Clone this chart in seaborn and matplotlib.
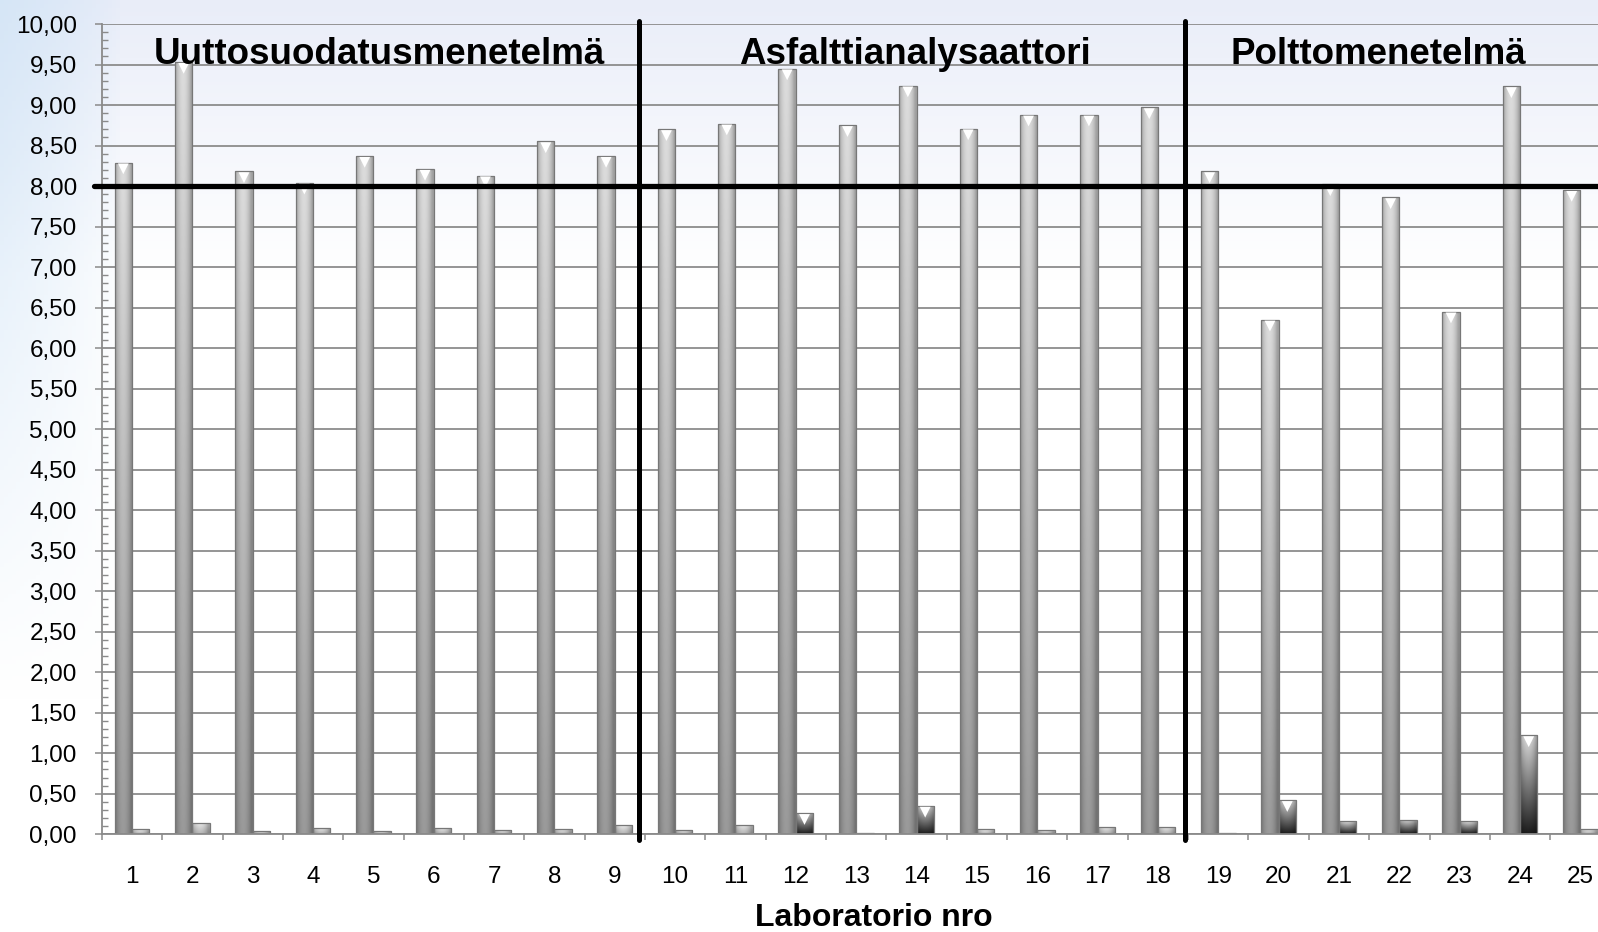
import numpy as np
import pandas as pd
import matplotlib
matplotlib.use("Agg")
import matplotlib.pyplot as plt
import matplotlib.transforms as mtransforms
import seaborn as sns
from matplotlib.ticker import MultipleLocator, FuncFormatter, FixedLocator

# ---------------- data ----------------
labs = [str(i) for i in range(1, 26)]
tulos = [8.29, 9.53, 8.18, 8.04, 8.37, 8.21, 8.13, 8.55, 8.37,
         8.70, 8.77, 9.45, 8.75, 9.24, 8.71, 8.88, 8.88, 8.97,
         8.18, 6.35, 8.02, 7.86, 6.45, 9.23, 7.95]
hajonta = [0.06, 0.14, 0.04, 0.08, 0.04, 0.08, 0.05, 0.07, 0.11,
           0.05, 0.12, 0.26, 0.02, 0.35, 0.06, 0.05, 0.09, 0.09,
           0.02, 0.42, 0.16, 0.18, 0.16, 1.22, 0.07]
series_names = ["Tulos", "Hajonta"]
group_names = ["Uuttosuodatusmenetelmä", "Asfalttianalysaattori", "Polttomenetelmä"]
group_text_x = [4.1, 12.97, 20.65]
group_sep_x = [8.40, 17.45]
raja = 8.00
x_title = "Laboratorio nro"

df = pd.DataFrame({
    "Laboratorio": labs * 2,
    "arvo": tulos + hajonta,
    "sarja": [series_names[0]] * len(labs) + [series_names[1]] * len(labs),
})

# ---------------- figure ----------------
sns.set_theme(style="white")
plt.rcParams["font.family"] = ["Liberation Sans", "DejaVu Sans"]

W, H = 1598, 932
fig = plt.figure(figsize=(W / 100, H / 100), dpi=100)

# background (slide-like soft gradient)
bg = fig.add_axes([0, 0, 1, 1], zorder=-10)
bg.axis("off")
ny, nx = 240, 400
yy, xx = np.mgrid[0:ny, 0:nx]
yf = yy / (ny - 1)   # 0 top
xf = xx / (nx - 1)
w_top = np.clip(1 - yf / 0.30, 0, 1) ** 1.1
w_left = np.clip(1 - xf / 0.075, 0, 1) ** 0.7 * np.clip(1 - yf / 0.75, 0, 1)
top_col = np.array([0.915, 0.93, 0.975])
left_col = np.array([0.82, 0.895, 0.965])
img = np.ones((ny, nx, 3))
img = img * (1 - w_top[..., None]) + top_col * w_top[..., None]
img = img * (1 - 0.8 * w_left[..., None]) + left_col * (0.8 * w_left[..., None])
bg.imshow(img, extent=[0, 1, 0, 1], aspect="auto", origin="upper")
bg.set_xlim(0, 1)
bg.set_ylim(0, 1)

ax_left = 101.8 / W
ax_bottom = 1 - 834.3 / H
ax_top = 1 - 24.0 / H
ax = fig.add_axes([ax_left, ax_bottom, 1 - ax_left, ax_top - ax_bottom])
ax.set_facecolor("none")

sns.barplot(data=df, x="Laboratorio", y="arvo", hue="sarja",
            order=labs, hue_order=series_names,
            palette=["#a6a6a6", "#4a4a4a"], saturation=1,
            width=0.575, dodge=True, legend=False, ax=ax,
            edgecolor="#777777", linewidth=0.9, zorder=2)

# cylinder-like gradient fill for each bar, derived from the bar geometry
def bar_gradient(top_v, bot_v, n=80, m=24):
    v = np.linspace(bot_v, top_v, n)[:, None]            # origin lower
    t = np.linspace(0, 1, m)[None, :]
    h = 0.80 + 0.28 * np.sin(np.pi * np.clip(t * 1.1, 0, 1)) ** 0.8
    g = np.clip(v * h, 0, 1)
    return np.repeat(g[..., None], 3, axis=2)

grad_main = bar_gradient(0.80, 0.56)
grad_small = bar_gradient(0.80, 0.10)
tri_x, tri_y = [], []
for ci, cont in enumerate(ax.containers):
    grad = grad_main if ci == 0 else grad_small
    for bar in cont:
        x0, y0 = bar.get_x(), bar.get_y()
        w, h = bar.get_width(), bar.get_height()
        g = grad
        if ci == 1 and h < 0.15:
            g = bar_gradient(0.85, 0.65)
        im = ax.imshow(g, extent=[x0, x0 + w, y0, y0 + h],
                       aspect="auto", origin="lower", zorder=2.1,
                       interpolation="bilinear")
        im.set_clip_path(bar)
        bar.set_facecolor("none")
        bar.set_zorder(2.2)
        if h > 0.2:
            tri_x.append(x0 + w / 2)
            tri_y.append(y0 + h)

# white bevel triangles at bar tops
offset = mtransforms.ScaledTranslation(0, -4.5 / 72, fig.dpi_scale_trans)
ax.scatter(tri_x, tri_y, marker="v", s=60, color="white", edgecolor="none",
           zorder=2.3, transform=ax.transData + offset, clip_on=False)

# ---------------- axes styling ----------------
ax.set_xlim(-0.5, -0.5 + (W - 101.8) / 60.35)
ax.set_ylim(0, 10)

ax.yaxis.set_major_locator(MultipleLocator(0.5))
ax.yaxis.set_minor_locator(MultipleLocator(0.1))
ax.yaxis.set_major_formatter(FuncFormatter(lambda v, p: f"{v:.2f}".replace(".", ",")))
ax.tick_params(axis="y", which="major", length=5, width=1.1, color="#8a8a8a",
               direction="out", pad=13, labelsize=17.5, labelcolor="black", left=True)
ax.tick_params(axis="y", which="minor", length=4.5, width=1.0, color="#8a8a8a",
               direction="in", left=True)

ax.set_xticks(range(len(labs)))
ax.set_xticklabels(labs)
ax.xaxis.set_minor_locator(FixedLocator(np.arange(-0.5, len(labs), 1.0)))
ax.tick_params(axis="x", which="major", length=0, pad=23, labelsize=17.5,
               labelcolor="black", bottom=True)
ax.tick_params(axis="x", which="minor", length=4.5, width=1.1, color="#8a8a8a",
               direction="out", bottom=True)

ax.yaxis.grid(True, which="major", color="#8c8c8c", linewidth=1.3)
ax.xaxis.grid(False)
ax.set_axisbelow(True)

for s in ["top", "right"]:
    ax.spines[s].set_visible(False)
for s in ["left", "bottom"]:
    ax.spines[s].set_color("#8a8a8a")
    ax.spines[s].set_linewidth(1.3)

ax.set_ylabel("")
ax.set_xlabel(x_title, fontsize=23, fontweight="bold", color="black")
ax.xaxis.label.set_va("center")
ax.xaxis.set_label_coords((874 - 101.8) / (W - 101.8), -(918 - 834.3) / 810.3)

# reference line and group separators
ax.axhline(raja, xmin=-0.005, xmax=1, color="black", linewidth=3.8,
           clip_on=False, zorder=4)
for xs in group_sep_x:
    ax.axvline(xs, ymin=-0.007, ymax=1.004, color="black", linewidth=3.6,
               clip_on=False, zorder=4)

for name, gx in zip(group_names, group_text_x):
    ax.text(gx, 9.51, name, ha="center", va="baseline", fontsize=26.5,
            fontweight="bold", color="black", zorder=5, clip_on=False)

fig.savefig("out.png", dpi=100)
